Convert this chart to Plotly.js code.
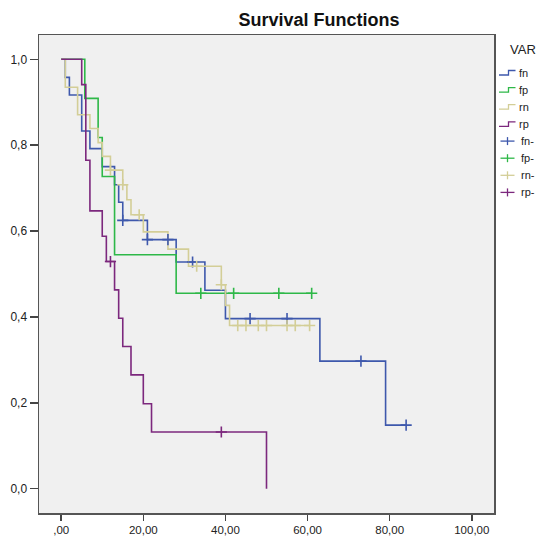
<!DOCTYPE html>
<html>
<head>
<meta charset="utf-8">
<script src="https://cdn.plot.ly/plotly-3.0.1.min.js"></script>
<style>
  html, body { margin: 0; padding: 0; background: #fff; }
  #chart { width: 537px; height: 536px; }
</style>
</head>
<body>
<div id="chart"></div>
<script>
// Kaplan–Meier curves: time of each drop and the survival level after it.
// The last point of a curve carries the level on to its last censored case.
const fnTimes = [0, 1, 2, 5, 7, 10, 13, 14, 15, 21, 28, 35, 40, 63, 79, 84];
const fnSurv  = [1, 0.958, 0.917, 0.833, 0.792, 0.750, 0.708, 0.667, 0.625, 0.580, 0.528, 0.462, 0.396, 0.297, 0.148, 0.148];
const fnCensTimes = [15, 21, 26, 32, 46, 55, 73, 84];
const fnCensSurv  = [0.625, 0.580, 0.580, 0.528, 0.396, 0.396, 0.297, 0.148];

const fpTimes = [0, 5.75, 9, 10, 13, 28, 61];
const fpSurv  = [1, 0.909, 0.818, 0.727, 0.545, 0.455, 0.455];
const fpCensTimes = [34, 42, 53, 61];
const fpCensSurv  = [0.455, 0.455, 0.455, 0.455];

const rnTimes = [0, 1, 4, 7, 9, 10, 12, 15, 16, 17, 20, 26, 31, 39, 40, 41, 60.5];
const rnSurv  = [1, 0.935, 0.871, 0.839, 0.806, 0.774, 0.742, 0.708, 0.673, 0.638, 0.598, 0.558, 0.518, 0.475, 0.427, 0.380, 0.380];
const rnCensTimes = [12, 15, 19, 33, 39, 43, 45, 48, 50, 55, 57, 60.5];
const rnCensSurv  = [0.742, 0.708, 0.638, 0.518, 0.475, 0.380, 0.380, 0.380, 0.380, 0.380, 0.380, 0.380];

const rpTimes = [0, 5, 6, 7, 10, 11, 13, 14, 15, 17, 20, 22, 50];
const rpSurv  = [1, 0.941, 0.765, 0.647, 0.588, 0.529, 0.463, 0.397, 0.331, 0.265, 0.198, 0.132, 0];
const rpCensTimes = [12, 39];
const rpCensSurv  = [0.529, 0.132];

const groupNames = ['fn', 'fp', 'rn', 'rp'];
const censoredNames = ['fn-', 'fp-', 'rn-', 'rp-'];
const legendTitle = 'VAR';

const xTickVals = [0, 20, 40, 60, 80, 100];
const xTickText = [',00', '20,00', '40,00', '60,00', '80,00', '100,00'];
const yTickVals = [0, 0.2, 0.4, 0.6, 0.8, 1.0];
const yTickText = ['0,0', '0,2', '0,4', '0,6', '0,8', '1,0'];

const colors = ['#3E58AC', '#2EB848', '#D3CE97', '#7C287D'];
const FONT = 'Liberation Sans, Arial, sans-serif';

const curves = [
  [fnTimes, fnSurv, fnCensTimes, fnCensSurv],
  [fpTimes, fpSurv, fpCensTimes, fpCensSurv],
  [rnTimes, rnSurv, rnCensTimes, rnCensSurv],
  [rpTimes, rpSurv, rpCensTimes, rpCensSurv]
];

const traces = [];
curves.forEach((c, i) => {
  traces.push({
    type: 'scatter', mode: 'lines', name: groupNames[i],
    x: c[0], y: c[1],
    line: { shape: 'hv', color: colors[i], width: 1.6 },
    hoverinfo: 'skip'
  });
});
curves.forEach((c, i) => {
  traces.push({
    type: 'scatter', mode: 'markers', name: censoredNames[i],
    x: c[2], y: c[3],
    marker: { symbol: 'cross-thin', size: 8, line: { color: colors[i], width: 1.6 } },
    hoverinfo: 'skip'
  });
});

// Plot area geometry in pixels
const W = 537, H = 536;
const M = { l: 39, r: 43, t: 35, b: 23 };
const PW = W - M.l - M.r, PH = H - M.t - M.b;
const px = x => (x - M.l) / PW;
const py = y => (H - M.b - y) / PH;

// Hand-built legend on the right side
const shapes = [];
const annotations = [];
annotations.push({
  xref: 'paper', yref: 'paper', x: px(508), y: py(49),
  xanchor: 'left', yanchor: 'middle', showarrow: false,
  text: legendTitle, font: { family: FONT, size: 13, color: '#222' }
});
const rowY0 = 72.7, rowStep = 17.1;
groupNames.forEach((name, i) => {
  const y = rowY0 + i * rowStep;
  shapes.push({
    type: 'path', xref: 'paper', yref: 'paper',
    path: `M${px(499)},${py(y + 2.3)} L${px(508.5)},${py(y + 2.3)} L${px(508.5)},${py(y - 2.2)} L${px(515.5)},${py(y - 2.2)}`,
    line: { color: colors[i], width: 1.3 }
  });
  annotations.push({
    xref: 'paper', yref: 'paper', x: px(516.5), y: py(y),
    xanchor: 'left', yanchor: 'middle', showarrow: false,
    text: name, font: { family: FONT, size: 11, color: '#222' }
  });
});
censoredNames.forEach((name, i) => {
  const y = rowY0 + (i + 4) * rowStep;
  shapes.push({
    type: 'line', xref: 'paper', yref: 'paper',
    x0: px(500.5), x1: px(514.5), y0: py(y), y1: py(y),
    line: { color: colors[i], width: 1.3 }
  });
  shapes.push({
    type: 'line', xref: 'paper', yref: 'paper',
    x0: px(507.5), x1: px(507.5), y0: py(y - 4), y1: py(y + 4),
    line: { color: colors[i], width: 1.3 }
  });
  annotations.push({
    xref: 'paper', yref: 'paper', x: px(518.5), y: py(y),
    xanchor: 'left', yanchor: 'middle', showarrow: false,
    text: name, font: { family: FONT, size: 11, color: '#222' }
  });
});

const axisCommon = {
  ticks: 'outside', tickwidth: 1.5, tickcolor: '#444',
  showline: true, mirror: true, linecolor: '#555', linewidth: 1.5,
  showgrid: false, zeroline: false, fixedrange: true
};

const layout = {
  width: W, height: H,
  margin: { l: M.l, r: M.r, t: M.t, b: M.b, autoexpand: false },
  paper_bgcolor: '#ffffff',
  plot_bgcolor: '#f0f0f0',
  showlegend: false,
  title: {
    text: 'Survival Functions',
    font: { family: FONT, size: 18, color: '#111', weight: 700 },
    xref: 'container', yref: 'container',
    x: 319 / W, xanchor: 'center',
    y: 1 - 20 / H, yanchor: 'middle'
  },
  xaxis: Object.assign({}, axisCommon, {
    range: [-5.4, 105.4],
    tickvals: xTickVals, ticktext: xTickText, ticklen: 6,
    tickfont: { family: FONT, size: 11.5, color: '#222' }
  }),
  yaxis: Object.assign({}, axisCommon, {
    range: [-0.0566, 1.0566],
    tickvals: yTickVals, ticktext: yTickText, ticklen: 8,
    tickfont: { family: FONT, size: 12, color: '#222' }
  }),
  shapes: shapes,
  annotations: annotations
};

Plotly.newPlot('chart', traces, layout, { displayModeBar: false, staticPlot: true });
</script>
</body>
</html>
